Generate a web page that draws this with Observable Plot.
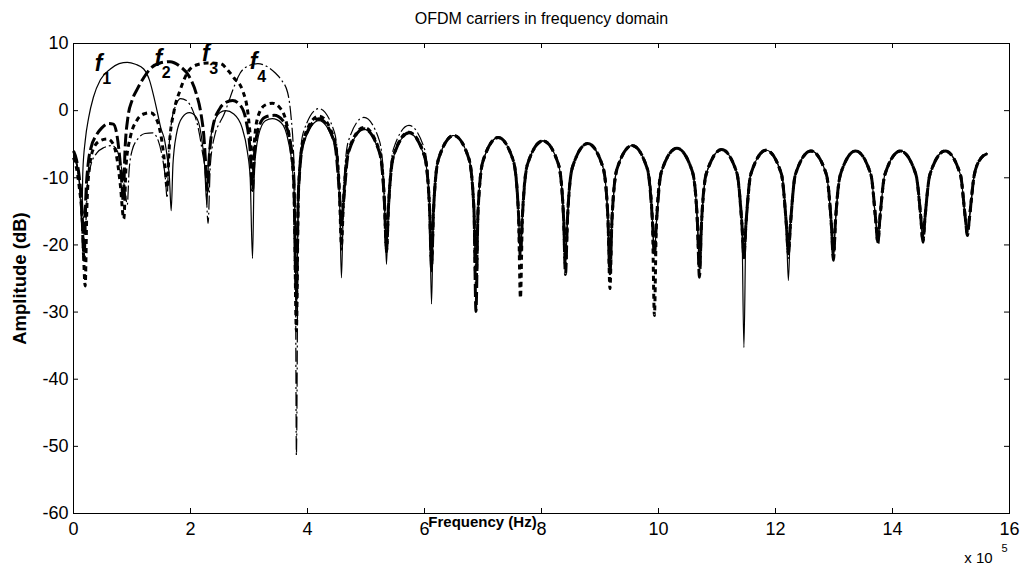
<!DOCTYPE html>
<html><head><meta charset="utf-8">
<script src="https://cdn.jsdelivr.net/npm/d3@7"></script>
<script src="https://cdn.jsdelivr.net/npm/@observablehq/plot@0.6"></script>
<style>body{margin:0;background:#fff;}</style>
</head><body><div id="chart"></div>
<script>
const titleText = "OFDM carriers in frequency domain";
const xLabelText = "Frequency (Hz)";
const yLabelText = "Amplitude (dB)";
const xTicks = [0,2,4,6,8,10,12,14,16];
const yTicks = [-60,-50,-40,-30,-20,-10,0,10];
const carrierNames = ["1","2","3","4"];
const labelX = [0.43, 1.45, 2.26, 3.08];
const labelY = [7.0, 7.8, 8.5, 7.3];

// frequency (x 1e5 Hz), amplitude (dB), x < 6.12
const f1Early = [[0,-6.3],[0.04,-7],[0.08,-9],[0.11,-12],[0.14,-17.1],
[0.16,-9],[0.2,-4.5],[0.26,-1],[0.34,2],[0.46,4.6],[0.63,6.2],[0.78,7],[0.92,7.2],[1.06,6.9],[1.2,6.2],[1.3,4.5],[1.37,2.2],[1.44,-0.5],[1.49,-2.5],[1.56,-4.5],[1.61,-7.5],[1.64,-10],[1.67,-14.9],
[1.7,-8],[1.76,-3.5],[1.86,-1],[1.98,-0.3],[2.1,-1],[2.18,-3.5],[2.24,-8],[2.28,-14],
[2.31,-7],[2.38,-2.5],[2.5,-0.3],[2.6,0],[2.74,-0.5],[2.88,-2.5],[2.97,-6],[3.02,-10],[3.06,-22],
[3.09,-9],[3.16,-3.8],[3.28,-1.5],[3.4,-1.2],[3.55,-1.8],[3.67,-4.5],[3.74,-8.5],[3.78,-14],
[3.81,-30],[3.845,-12.5],[3.93,-5],[4.195,-1.5],[4.46,-5],[4.545,-12.5],
[4.58,-24.9],[4.615,-13.8],[4.70,-6.3],[4.965,-2.8],[5.23,-6.3],[5.315,-13.8],
[5.35,-22.9],[5.385,-14.4],[5.47,-6.9],[5.735,-3.4],[6.0,-6.9],[6.085,-14.4]];

const f2Early = [[0,-6],[0.05,-7.3],[0.1,-10],[0.14,-14],[0.18,-22.3],
[0.21,-13],[0.25,-8],[0.3,-5.5],[0.38,-3.8],[0.48,-2.6],[0.6,-1.9],[0.68,-2],[0.74,-3.5],[0.79,-7],[0.82,-10],[0.85,-13.4],
[0.88,-6],[0.93,-1],[1.0,1.5],[1.09,3.2],[1.2,4.9],[1.32,6.3],[1.48,7.1],[1.65,7.3],[1.82,6.6],[1.97,5.2],[2.1,2.5],[2.18,-0.5],[2.23,-4],[2.26,-8],[2.29,-12],
[2.32,-7],[2.38,-2.5],[2.5,0.3],[2.6,1.2],[2.72,1.5],[2.85,0.8],[2.95,-1.5],[3.02,-6],[3.06,-11.9],
[3.09,-7],[3.15,-3],[3.27,-1],[3.43,-0.7],[3.58,-1.5],[3.69,-4],[3.76,-9],
[3.81,-28],[3.845,-12.2],[3.93,-4.7],[4.195,-1.2],[4.46,-4.7],[4.545,-12.2],
[4.58,-16.8],[4.615,-13.7],[4.70,-6.2],[4.965,-2.7],[5.23,-6.2],[5.315,-13.7],
[5.35,-20.8],[5.385,-14.3],[5.47,-6.8],[5.735,-3.3],[6.0,-6.8],[6.085,-14.3]];

const f3Early = [[0,-7],[0.05,-8.5],[0.1,-11.5],[0.15,-16],[0.2,-26.1],
[0.23,-14],[0.28,-8],[0.35,-5.5],[0.45,-4.5],[0.58,-4.2],[0.68,-5],[0.75,-7.5],[0.8,-11],[0.86,-16.1],
[0.9,-8],[0.97,-4],[1.08,-1.5],[1.2,-0.5],[1.32,-0.3],[1.43,-1.5],[1.51,-4.5],[1.56,-8],[1.6,-11.5],
[1.64,-5],[1.72,0],[1.82,3],[1.95,5.7],[2.1,6.8],[2.3,7.1],[2.51,7.0],[2.65,5.9],[2.74,4.9],[2.89,3.0],[2.99,-1],[3.03,-5],[3.06,-11],
[3.09,-5],[3.15,-1],[3.27,0.8],[3.4,1.1],[3.52,0.5],[3.64,-1.8],[3.72,-6],[3.77,-12],
[3.81,-32.8],[3.845,-11.8],[3.93,-4.3],[4.195,-0.8],[4.46,-4.3],[4.545,-11.8],
[4.58,-20],[4.615,-13.5],[4.70,-6],[4.965,-2.5],[5.23,-6],[5.315,-13.5],
[5.35,-21],[5.385,-14.2],[5.47,-6.7],[5.735,-3.2],[6.0,-6.7],[6.085,-14.2]];

const f4Early = [[0,-6.8],[0.05,-8],[0.1,-10.5],[0.15,-14],[0.2,-18],
[0.24,-11],[0.3,-8],[0.4,-6.3],[0.52,-5.5],[0.66,-5.2],[0.75,-6],[0.83,-9],[0.88,-12],[0.92,-14],
[0.95,-9],[1.0,-6],[1.1,-4.2],[1.22,-3.4],[1.35,-3.3],[1.45,-4.5],[1.52,-7],[1.57,-10],[1.6,-13],
[1.63,-6],[1.68,-1.5],[1.75,0.8],[1.83,1.8],[1.93,1.5],[2.04,0],[2.13,-2.5],[2.2,-6],[2.26,-10],[2.3,-16.8],
[2.34,-8],[2.42,-3.5],[2.5,-1.8],[2.56,-0.8],[2.64,1],[2.72,3.0],[2.85,5.6],[3.0,6.7],[3.15,7.0],[3.3,6.6],[3.45,5.6],[3.55,4.6],[3.66,2.7],[3.72,-1],[3.76,-6],[3.79,-14],
[3.81,-51.3],[3.845,-10.7],[3.93,-3.2],[4.195,0.3],[4.46,-3.2],[4.545,-10.7],
[4.58,-21],[4.615,-12],[4.70,-4.5],[4.965,-1.0],[5.23,-4.5],[5.315,-12],
[5.35,-21],[5.385,-13.2],[5.47,-5.7],[5.735,-2.2],[6.0,-5.7],[6.085,-13.2]];

// common side-lobe arches for x >= 6.12 (all four carriers overlap there)
const tailNullX = [6.12,6.88,7.64,8.41,9.17,9.93,10.70,11.46,12.22,12.99,13.75,14.52,15.28];
const tailArch = [
 [[6.155,-14.7],[6.24,-7.2],[6.5,-3.7],[6.76,-7.2],[6.845,-14.7]],
 [[6.915,-15],[7.0,-7.5],[7.26,-4.0],[7.52,-7.5],[7.605,-15]],
 [[7.675,-15.5],[7.76,-8],[8.025,-4.5],[8.29,-8],[8.375,-15.5]],
 [[8.445,-15.9],[8.53,-8.4],[8.79,-4.9],[9.05,-8.4],[9.135,-15.9]],
 [[9.205,-16.2],[9.29,-8.7],[9.55,-5.2],[9.81,-8.7],[9.895,-16.2]],
 [[9.965,-16.6],[10.05,-9.1],[10.315,-5.6],[10.58,-9.1],[10.665,-16.6]],
 [[10.735,-16.8],[10.82,-9.3],[11.08,-5.8],[11.34,-9.3],[11.425,-16.8]],
 [[11.495,-16.9],[11.58,-9.4],[11.84,-5.9],[12.10,-9.4],[12.185,-16.9]],
 [[12.255,-17],[12.34,-9.5],[12.605,-6],[12.87,-9.5],[12.955,-17]],
 [[13.025,-16.5],[13.11,-9.5],[13.37,-6],[13.63,-9.5],[13.715,-16.5]],
 [[13.785,-16],[13.87,-9.5],[14.135,-6],[14.40,-9.5],[14.485,-16]],
 [[14.555,-16],[14.64,-9.5],[14.9,-6],[15.16,-9.5],[15.245,-16]],
 [[15.315,-16],[15.40,-9.5],[15.52,-7],[15.62,-6.4]]
];
const f1TailNull = [-28.8,-23,-21.5,-23,-23,-21.5,-23,-35.3,-25.3,-21.5,-19.3,-19.2,-18.3];
const f2TailNull = [-23.4,-29.9,-21.9,-24.4,-24.3,-21.6,-24.8,-21.9,-21.3,-22.3,-19.8,-19.6,-18.6];
const f3TailNull = [-22.5,-26,-27.9,-23,-26.5,-30.5,-23.5,-21,-21,-21.5,-19.5,-19.4,-18.3];
const f4TailNull = [-24,-25,-21,-22.5,-23,-21,-23,-22,-22,-21,-19,-19,-18];

function build(early, tailNull) {
  const rows = early.map(([x, y]) => ({x, y}));
  tailNullX.forEach((nx, i) => {
    rows.push({x: nx, y: tailNull[i]});
    tailArch[i].forEach(([x, y]) => rows.push({x, y}));
  });
  return rows;
}
const f1 = build(f1Early, f1TailNull);
const f2 = build(f2Early, f2TailNull);
const f3 = build(f3Early, f3TailNull);
const f4 = build(f4Early, f4TailNull);

const W = 1021, H = 567, mL = 73, mR = 12, mT = 43, mB = 54;
const innerW = W - mL - mR, innerH = H - mT - mB;
const font = "'Liberation Sans', Arial, Helvetica, sans-serif";
const labels = carrierNames.map((n, i) => ({n, x: labelX[i], y: labelY[i]}));

const chart = Plot.plot({
  width: W, height: H,
  marginLeft: mL, marginRight: mR, marginTop: mT, marginBottom: mB,
  style: {fontFamily: font, background: "#fff", color: "#000"},
  x: {domain: [0, 16]},
  y: {domain: [-60, 10]},
  marks: [
    Plot.axisX({ticks: xTicks, tickSize: 0, tickPadding: 9, fontSize: 18, label: null, tickFormat: d => d}),
    Plot.axisY({ticks: yTicks, tickSize: 0, tickPadding: 5, fontSize: 18, label: null, tickFormat: d => d}),
    Plot.tickX(xTicks, {x: d => d, insetTop: innerH - 5, stroke: "#000", strokeWidth: 1}),
    Plot.tickX(xTicks, {x: d => d, insetBottom: innerH - 5, stroke: "#000", strokeWidth: 1}),
    Plot.tickY(yTicks, {y: d => d, insetRight: innerW - 5, stroke: "#000", strokeWidth: 1}),
    Plot.tickY(yTicks, {y: d => d, insetLeft: innerW - 5, stroke: "#000", strokeWidth: 1}),
    Plot.line(f2, {x: "x", y: "y", curve: "monotone-x", stroke: "#000", strokeWidth: 3, strokeDasharray: "13,4", strokeLinecap: "butt"}),
    Plot.line(f3, {x: "x", y: "y", curve: "monotone-x", stroke: "#000", strokeWidth: 3, strokeDasharray: "5,4", strokeLinecap: "butt"}),
    Plot.line(f1, {x: "x", y: "y", curve: "monotone-x", stroke: "#000", strokeWidth: 1.2}),
    Plot.line(f4, {x: "x", y: "y", curve: "monotone-x", stroke: "#000", strokeWidth: 1.2, strokeDasharray: "14,3,2,3", strokeLinecap: "butt"}),
    Plot.frame({stroke: "#000", strokeWidth: 1}),
    Plot.text(labels, {x: "x", y: "y", text: () => "f", fontSize: 23, fontWeight: "bold", fontStyle: "italic", fill: "#000", textAnchor: "middle", lineAnchor: "middle"}),
    Plot.text(labels, {x: "x", y: "y", text: "n", fontSize: 16, fontWeight: "bold", fill: "#000", dx: 8, dy: 15, textAnchor: "middle", lineAnchor: "middle"}),
    Plot.text([titleText], {frameAnchor: "top", dy: -25, fontSize: 16, fill: "#000", textAnchor: "middle", lineAnchor: "middle"}),
    Plot.text([xLabelText], {frameAnchor: "bottom", dx: -59, dy: 9, fontSize: 15, fontWeight: "bold", fill: "#000", textAnchor: "middle", lineAnchor: "middle"}),
    Plot.text([yLabelText], {frameAnchor: "left", dx: -53, rotate: -90, fontSize: 18.5, fontWeight: "bold", fill: "#000", textAnchor: "middle", lineAnchor: "middle"}),
    Plot.text(["x 10"], {frameAnchor: "bottom-right", dx: -31, dy: 45, fontSize: 15, fill: "#000", textAnchor: "middle", lineAnchor: "middle"}),
    Plot.text(["5"], {frameAnchor: "bottom-right", dx: -5, dy: 35, fontSize: 11, fill: "#000", textAnchor: "middle", lineAnchor: "middle"})
  ]
});
document.getElementById("chart").appendChild(chart);
</script>
</body></html>
